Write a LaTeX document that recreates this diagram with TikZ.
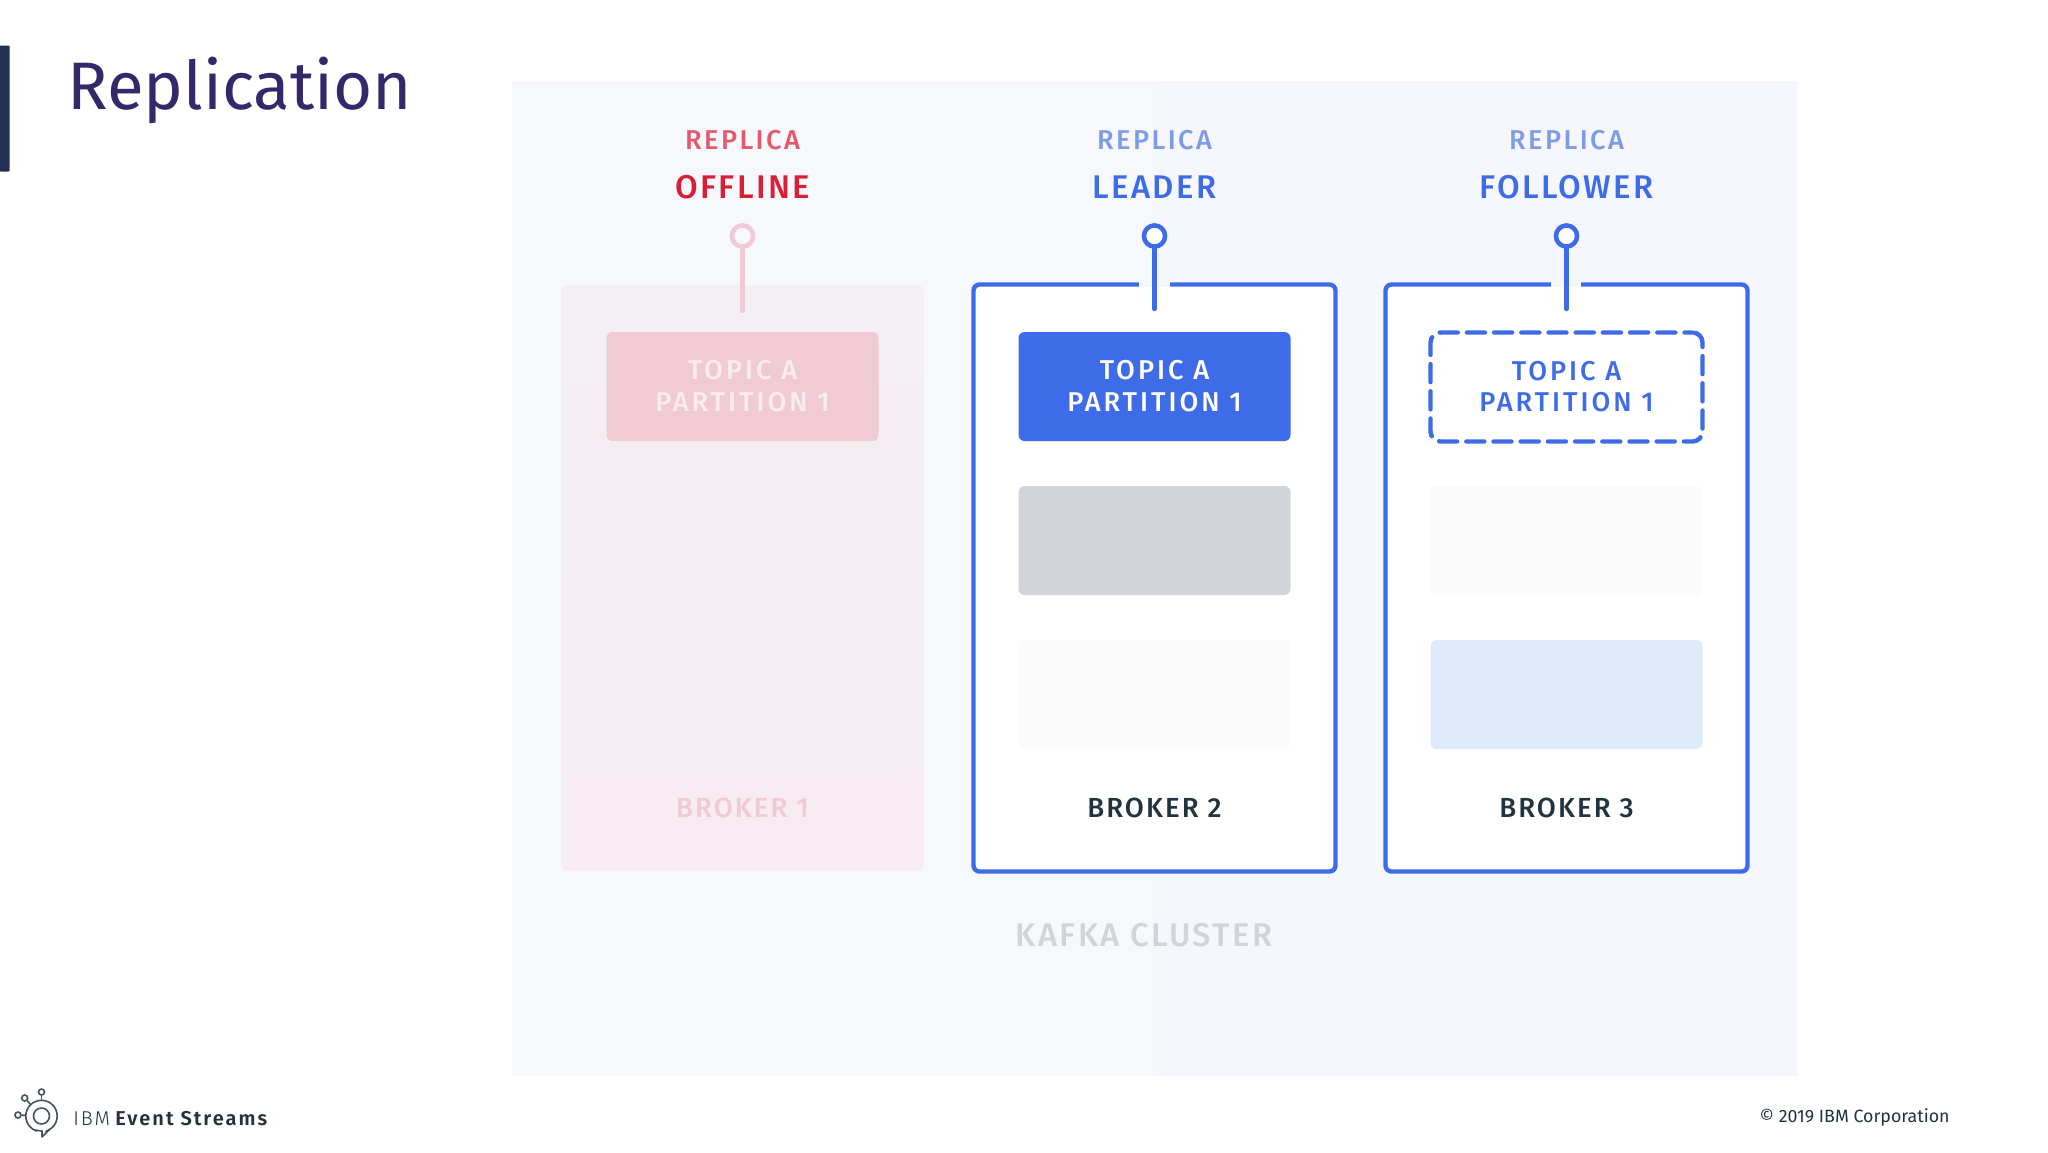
\documentclass[tikz,border=0pt]{standalone}
\usepackage{fontspec}
\setmainfont{Fira Sans}
\newfontfamily\medA[LetterSpace=9]{Fira Sans Medium}
\newfontfamily\medB[LetterSpace=7.2]{Fira Sans Medium}
\newfontfamily\medC[LetterSpace=7.5]{Fira Sans Medium}
\newfontfamily\medD[LetterSpace=11]{Fira Sans Medium}
\newfontfamily\medE[LetterSpace=7]{Fira Sans Medium}
\newfontfamily\brandlight[LetterSpace=9]{Fira Sans Light}
\newfontfamily\brandbold[LetterSpace=10]{Fira Sans SemiBold}
\definecolor{blueA}{HTML}{3E6CE8}
\definecolor{blueL}{HTML}{7E9BE8}
\definecolor{redA}{HTML}{DA1E37}
\definecolor{redL}{HTML}{E5596D}
\definecolor{pinkA}{HTML}{F0CAD4}
\definecolor{pinkT}{HTML}{F9EDF0}
\definecolor{navy}{HTML}{32296B}
\definecolor{ink}{HTML}{22333F}
\definecolor{barcol}{HTML}{222F55}
\definecolor{panelL}{HTML}{F7F8FB}
\definecolor{panelR}{HTML}{F5F7FD}
\definecolor{offT}{HTML}{F3EFF3}
\definecolor{offB}{HTML}{F6ECF1}
\definecolor{greyBox}{HTML}{D1D5DA}
\definecolor{paleBox}{HTML}{FBFBFC}
\definecolor{skyBox}{HTML}{DDEBFA}
\tikzset{
  x=0.5pt,y=-0.5pt,
  brokerbox/.style={rectangle,rounded corners=3pt,minimum width=181pt,minimum height=293.5pt,inner sep=0pt,outer sep=0pt},
  slotbox/.style={rectangle,rounded corners=3pt,minimum width=136pt,minimum height=54.5pt,inner sep=0pt,outer sep=0pt,align=center,font=\medD\fontsize{13.6}{15.8}\selectfont},
  pinhead/.style={circle,minimum size=10.5pt,inner sep=0pt,outer sep=0pt,line width=2.2pt,fill=white},
  stem/.style={line width=2.2pt,line cap=round},
  smalllab/.style={font=\medA\fontsize{13.6}{16}\selectfont,inner sep=0pt},
  biglab/.style={font=\medB\fontsize{16.4}{19}\selectfont,inner sep=0pt},
  brokerlab/.style={font=\medC\fontsize{13.8}{16}\selectfont,inner sep=0pt},
  logoline/.style={draw=ink!85,line width=0.8pt}
}
\begin{document}
\begin{tikzpicture}
\useasboundingbox (0,0) rectangle (2048,1152);
\fill[white] (0,0) rectangle (2048,1152);
% side bar and title
\node[rectangle,fill=barcol,minimum width=5pt,minimum height=63pt,inner sep=0pt,rounded corners=0.5pt] (bar) at (4.7,108.5) {};
\node[anchor=base west,text=navy,inner sep=0pt,font=\fontsize{33.6}{40}\selectfont] (title) at (67,109) {Replication};
% cluster panel
\node[rectangle,left color=panelL,right color=panelR,minimum width=642.5pt,minimum height=497pt,inner sep=0pt] (panel) at (1154.5,578) {};
% broker 1 (offline)
\node[brokerbox,minimum width=181pt,top color=offT,bottom color=offB,minimum height=293pt] (b1) at (742.5,578) {};
% broker 2, 3
\node[brokerbox,fill=white,draw=blueA,line width=2.2pt] (b2) at (1154.5,578) {};
\node[brokerbox,fill=white,draw=blueA,line width=2.2pt] (b3) at (1566.5,578) {};
% gaps in the top border
\fill[panelR] (1139,280) rectangle (1170,289);
\fill[white] (1139,287) rectangle (1170,289);
\fill[panelR] (1551,280) rectangle (1581,289);
\fill[white] (1551,287) rectangle (1581,289);
% labels
\node[smalllab,text=redL] (r1) at (742.5,140) {REPLICA};
\node[smalllab,text=blueL] (r2) at (1154.5,140) {REPLICA};
\node[smalllab,text=blueL] (r3) at (1566.5,140) {REPLICA};
\node[biglab,text=redA] (s1) at (742.5,187) {OFFLINE};
\node[biglab,text=blueA] (s2) at (1154.5,187) {LEADER};
\node[biglab,text=blueA] (s3) at (1566.5,187) {FOLLOWER};
% pins
\node[pinhead,draw=pinkA,fill=panelL] (p1) at (742.5,236) {};
\node[pinhead,draw=blueA,fill=white] (p2) at (1154.5,236) {};
\node[pinhead,draw=blueA,fill=white] (p3) at (1566.5,236) {};
\coordinate (e1) at (742.5,311);
\coordinate (e2) at (1154.5,309);
\coordinate (e3) at (1566.5,309);
\draw[stem,pinkA] (p1) -- (e1);
\draw[stem,blueA] (p2) -- (e2);
\draw[stem,blueA] (p3) -- (e3);
\node[pinhead,draw=pinkA,fill=panelL] at (p1) {};
\node[pinhead,draw=blueA,fill=white] at (p2) {};
\node[pinhead,draw=blueA,fill=white] at (p3) {};
% partition slots
\node[slotbox,fill=pinkA,text=pinkT] (t1) at (742.5,386.5) {\raisebox{0.5pt}{TOPIC A}\\\raisebox{0.5pt}{PARTITION 1}};
\node[slotbox,fill=blueA,text=white] (t2) at (1154.5,386.5) {\raisebox{0.5pt}{TOPIC A}\\\raisebox{0.5pt}{PARTITION 1}};
\node[slotbox,rounded corners=5pt,draw=blueA,text=blueA,line width=2.2pt,line cap=round,dash pattern=on 9pt off 4.6pt,dash phase=5pt] (t3) at (1566.5,387) {\raisebox{0.5pt}{TOPIC A}\\\raisebox{0.5pt}{PARTITION 1}};
\node[slotbox,fill=greyBox] (g2) at (1154.5,540.5) {};
\node[slotbox,fill=paleBox] (g3) at (1566.5,540.5) {};
\node[slotbox,fill=paleBox] (h2) at (1154.5,694.5) {};
\node[slotbox,fill=skyBox] (h3) at (1566.5,694.5) {};
% broker names
\node[brokerlab,text=pinkA] (n1) at (742.5,808) {BROKER 1};
\node[brokerlab,text=ink] (n2) at (1154.5,808) {BROKER 2};
\node[brokerlab,text=ink] (n3) at (1566.5,808) {BROKER 3};
\node[font=\medE\fontsize{16.4}{19}\selectfont,text=greyBox,inner sep=0pt] (kc) at (1144,935) {KAFKA CLUSTER};
% logo
\node[circle,logoline,minimum size=15.7pt,inner sep=0pt] (lc1) at (41.5,1116) {};
\node[circle,logoline,minimum size=8pt,inner sep=0pt] (lc2) at (41.5,1116) {};
\node[circle,logoline,minimum size=3pt,inner sep=0pt] (la) at (41.5,1092) {};
\node[circle,logoline,minimum size=3pt,inner sep=0pt] (lb) at (24.7,1098) {};
\node[circle,logoline,minimum size=3pt,inner sep=0pt] (ld) at (18,1115) {};
\draw[logoline] (la) -- (lc1);
\draw[logoline] (lb) -- (lc1);
\draw[logoline] (ld) -- (lc1);
\coordinate (tail) at (42,1137);
\fill[white] (34,1128) -- (tail) -- (46,1130) -- cycle;
\draw[logoline,line join=round] (35,1130) -- (42,1131) -- (tail) -- (50,1129);
% footer texts
\node[anchor=base west,inner sep=0pt,text=ink,font=\fontsize{10}{12}\selectfont] (brand) at (73,1125) {{\brandlight IBM} {\brandbold Event Streams}};
\node[anchor=base east,inner sep=0pt,text=ink,font=\fontsize{8.9}{10}\selectfont] (copy) at (1950,1122) {© 2019 IBM Corporation};
\end{tikzpicture}
\end{document}
